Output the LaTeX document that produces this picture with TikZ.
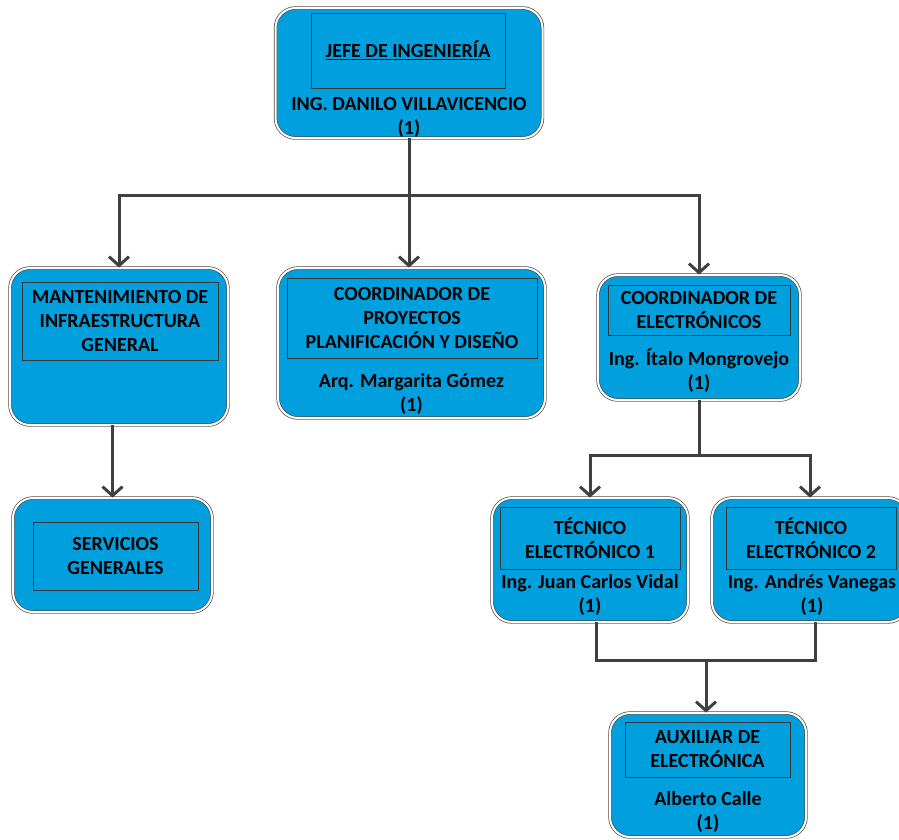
\documentclass[tikz,border=0pt]{standalone}
\usepackage{fontspec}
\setmainfont{Carlito}
\usetikzlibrary{arrows.meta,positioning}
\definecolor{boxblue}{RGB}{0,160,222}
\definecolor{linegray}{RGB}{64,64,64}
\tikzset{
  orgbox/.style 2 args={draw=gray!60!black, double=white, double distance=2pt,
    line width=0.7pt, fill=boxblue, rounded corners=20pt,
    minimum width=#1, minimum height=#2, inner sep=0pt},
  headbox/.style 2 args={draw=gray!45!black, line width=0.5pt,
    minimum width=#1, minimum height=#2, inner sep=0pt,
    align=center, font=\bfseries\fontsize{20}{24}\selectfont},
  person/.style={align=center, inner sep=0pt,
    font=\bfseries\fontsize{20}{24}\selectfont},
  conn/.style={draw=linegray, line width=3pt},
  arr/.style={conn, -{Straight Barb[length=9pt,width=20pt,line width=3pt]}}
}
\begin{document}
\begin{tikzpicture}[x=1pt,y=-1pt]
\useasboundingbox (0,0) rectangle (899,839);

\node [orgbox={267pt}{130pt}] (jefe) at (409,73) {};
\node [headbox={194pt}{75pt}] (jefe-t) at (408,50.5) {\underline{JEFE DE INGENIERÍA}};
\node [person] (jefe-n) at (409,117.5) {ING. DANILO VILLAVICENCIO\\(1)};

\node [orgbox={218pt}{157pt}] (mant) at (119,346.5) {};
\node [headbox={196pt}{78pt}] (mant-t) at (120,321) {MANTENIMIENTO DE\\INFRAESTRUCTURA\\GENERAL};

\node [orgbox={267pt}{150pt}] (proy) at (411.5,343) {};
\node [headbox={250pt}{80pt}] (proy-t) at (412,318) {COORDINADOR DE\\PROYECTOS\\PLANIFICACIÓN Y DISEÑO};
\node [person] (proy-n) at (411.5,393.5) {Arq. Margarita Gómez\\(1)};

\node [orgbox={202pt}{125pt}] (elec) at (699,337.5) {};
\node [headbox={182pt}{50pt}] (elec-t) at (699,310) {COORDINADOR DE\\ELECTRÓNICOS};
\node [person] (elec-n) at (699,370.5) {Ing. Ítalo Mongrovejo\\(1)};

\node [orgbox={199pt}{114pt}] (serv) at (112.5,555) {};
\node [headbox={165pt}{68pt}] (serv-t) at (115.5,556) {SERVICIOS\\GENERALES};

\node [orgbox={196pt}{124pt}] (tec1) at (590,560) {};
\node [headbox={180pt}{62pt}] (tec1-t) at (590,538) {TÉCNICO\\ELECTRÓNICO 1};
\node [person] (tec1-n) at (590,594.5) {Ing. Juan Carlos Vidal\\(1)};

\node [orgbox={196pt}{124pt}] (tec2) at (810,560) {};
\node [headbox={170pt}{62pt}] (tec2-t) at (811,538) {TÉCNICO\\ELECTRÓNICO 2};
\node [person] (tec2-n) at (812,594.5) {Ing. Andrés Vanegas\\(1)};

\node [orgbox={196pt}{124pt}] (aux) at (708,775) {};
\node [headbox={165pt}{55pt}] (aux-t) at (707.5,749.5) {AUXILIAR DE\\ELECTRÓNICA};
\node [person] (aux-n) at (708,812) {Alberto Calle\\(1)};

\coordinate (bus1) at (409,195);
\coordinate (bus2) at (699,455);
\coordinate (join) at (706,660);

\draw [conn] (jefe.south) -- (bus1);
\draw [arr] (bus1) -| (mant.north);
\draw [arr] (bus1) -- (bus1 |- proy.north);
\draw [arr] (bus1) -| (elec.north);
\draw [arr] (mant.south -| serv.north) -- (serv.north);
\draw [conn] (elec.south) -- (bus2);
\draw [arr] (bus2) -| (tec1.north);
\draw [arr] (bus2) -| (tec2.north);
\draw [conn] ([xshift=6pt]tec1.south) |- (join) -| ([xshift=5pt]tec2.south);
\draw [arr] (join) -- (join |- aux.north);
\end{tikzpicture}
\end{document}
